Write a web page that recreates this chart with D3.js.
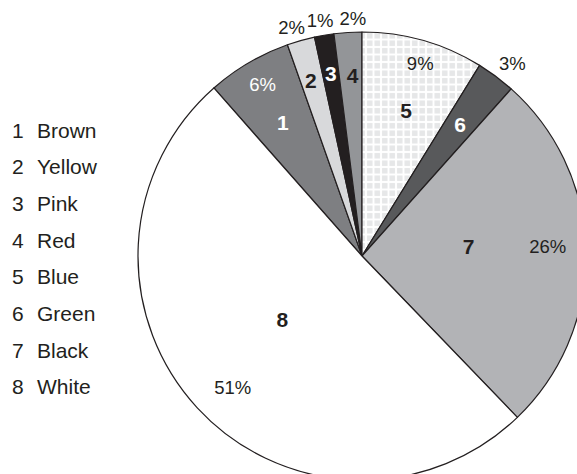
<!DOCTYPE html>
<html><head><meta charset="utf-8">
<script src="https://cdn.jsdelivr.net/npm/d3@7"></script>
<style>body{margin:0;background:#fff;} svg{display:block;} text{font-family:Arial,"Liberation Sans",sans-serif;}</style>
</head><body>
<svg id="chart" width="577" height="474"></svg>
<script>
// ---- data ----
const ids = ["1","2","3","4","5","6","7","8"];
const names = ["Brown","Yellow","Pink","Red","Blue","Green","Black","White"];
const values = [6.1, 2.0, 1.4, 2.0, 8.8, 2.8, 26.2, 50.7];
const pctLabels = ["6%","2%","1%","2%","9%","3%","26%","51%"];

// ---- styling / layout (not data) ----
const fills = ["#7e7f82","#d8d9db","#231f20","#939598","url(#grid)","#58595b","#b2b3b6","#ffffff"];
const numColors = ["#fff","#231f20","#fff","#231f20","#231f20","#fff","#231f20","#231f20"];
const pctColors = ["#fff","#231f20","#231f20","#231f20","#231f20","#231f20","#231f20","#231f20"];
const numR = [155, 183, 185, 181, 152, 164, 107, 102];
const numDa = [-0.3, -0.4, 0, 0.6, 1.0, 0, -4.1, 4.0];
const pctR = [198, 239, 239, 238, 201, 244, 186, 184];
const pctDa = [0.3, -1.3, -0.4, 1.4, 1.0, 1.3, -2.0, -2.7];

const svg = d3.select("#chart");
const cx = 362, cy = 256, R = 224;

const defs = svg.append("defs");
const pat = defs.append("pattern").attr("id","grid").attr("patternUnits","userSpaceOnUse")
  .attr("width",7.5).attr("height",7.5).attr("x",cx+2).attr("y",cy);
pat.append("rect").attr("width",7.5).attr("height",7.5).attr("fill","#fff");
pat.append("rect").attr("x",1).attr("y",1).attr("width",5.5).attr("height",5.5).attr("fill","#e6e7e8");

const total = d3.sum(values);
const a0 = -2*Math.PI*d3.sum(values.slice(0,4))/total;
const pie = d3.pie().sort(null).value(d=>d).startAngle(a0).endAngle(a0+2*Math.PI);
const arcs = pie(values);
const arc = d3.arc().innerRadius(0).outerRadius(R);

const g = svg.append("g").attr("transform",`translate(${cx},${cy})`);
g.selectAll("path.slice").data(arcs).join("path")
  .attr("class","slice")
  .attr("d",arc)
  .attr("fill",(d,i)=>fills[i])
  .attr("stroke","#231f20").attr("stroke-width",1.2).attr("stroke-linejoin","round");

function polar(d, r, da){
  const a = (d.startAngle + d.endAngle)/2 + da*Math.PI/180;
  return [r*Math.sin(a), -r*Math.cos(a)];
}

g.selectAll("text.num").data(arcs).join("text")
  .attr("class","num")
  .attr("x",(d,i)=>polar(d,numR[i],numDa[i])[0])
  .attr("y",(d,i)=>polar(d,numR[i],numDa[i])[1])
  .attr("dy","0.36em").attr("text-anchor","middle")
  .attr("font-size",21).attr("font-weight","bold")
  .attr("fill",(d,i)=>numColors[i])
  .text((d,i)=>ids[i]);

g.selectAll("text.pct").data(arcs).join("text")
  .attr("class","pct")
  .attr("x",(d,i)=>polar(d,pctR[i],pctDa[i])[0])
  .attr("y",(d,i)=>polar(d,pctR[i],pctDa[i])[1])
  .attr("dy","0.36em").attr("text-anchor","middle")
  .attr("font-size",18.5)
  .attr("fill",(d,i)=>pctColors[i])
  .text((d,i)=>pctLabels[i]);

// legend
const ly = d3.scalePoint().domain(ids).range([130, 386.7]);
const leg = svg.append("g").selectAll("g").data(ids).join("g")
  .attr("transform",d=>`translate(0,${ly(d)})`);
leg.append("text").attr("x",12).attr("dy","0.36em").attr("font-size",21).attr("fill","#231f20").text(d=>d);
leg.append("text").attr("x",37).attr("dy","0.36em").attr("font-size",21).attr("fill","#231f20").text((d,i)=>names[i]);
</script>
</body></html>
